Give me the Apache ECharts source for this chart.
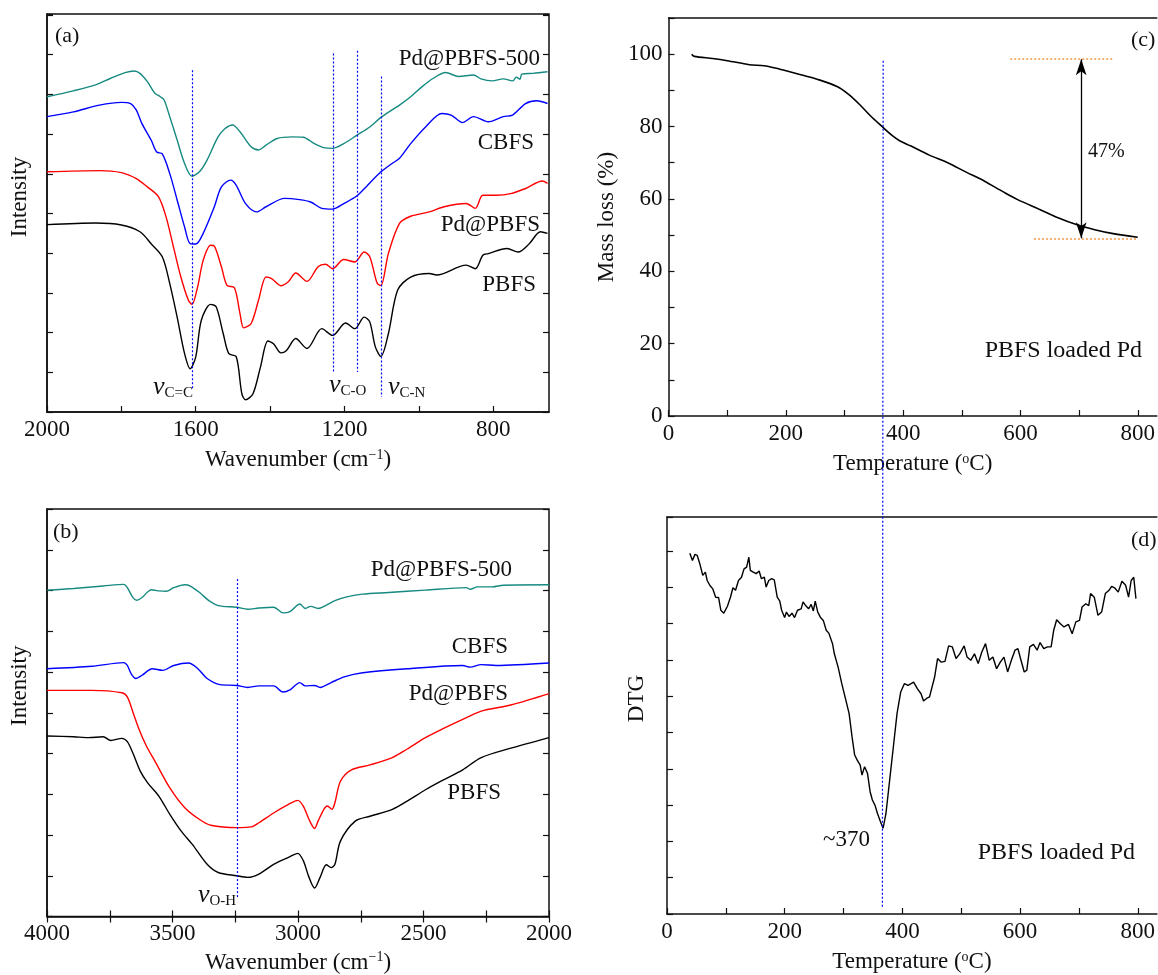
<!DOCTYPE html>
<html>
<head>
<meta charset="utf-8">
<script src="https://cdn.jsdelivr.net/npm/echarts@6/dist/echarts.min.js"></script>
<style>
html,body{margin:0;padding:0;background:#fff;}
#main{width:1158px;height:975px;}
</style>
</head>
<body>
<div id="main"></div>
<script>
// (a) FTIR 2000-650 cm-1, [wavenumber, intensity a.u.]
var tealA = [[2000,79.4],[1929,80.9],[1869,82.4],[1830,84.0],[1790,85.5],[1765,85.9],[1750,85.3],[1730,83.2],[1710,80.3],[1695,79.4],[1685,78.6],[1670,74.4],[1650,68.5],[1630,62.6],[1610,59.4],[1590,60.5],[1570,63.4],[1540,69.3],[1521,71.4],[1501,72.3],[1481,70.6],[1451,66.8],[1431,66.0],[1411,67.2],[1381,68.9],[1341,69.3],[1311,69.2],[1281,67.6],[1256,66.6],[1232,66.4],[1202,67.6],[1167,69.7],[1132,71.8],[1102,74.2],[1072,76.1],[1052,77.3],[1022,79.4],[992,81.9],[962,84.0],[928,85.5],[893,84.5],[853,84.9],[833,83.9],[803,83.4],[773,83.9],[748,83.4],[738,84.3],[728,83.8],[723,85.1],[693,85.3],[654,85.7]];
var blueA = [[2000,74.4],[1929,75.6],[1859,77.3],[1800,78.0],[1775,77.7],[1760,76.1],[1745,72.7],[1720,68.5],[1705,65.5],[1690,65.0],[1670,60.1],[1650,53.4],[1630,46.6],[1615,42.4],[1600,42.3],[1580,45.0],[1550,51.7],[1531,56.7],[1506,58.4],[1491,57.1],[1466,52.5],[1436,50.4],[1411,51.7],[1361,53.8],[1321,53.5],[1291,52.9],[1261,51.3],[1232,51.1],[1202,52.5],[1167,54.4],[1142,56.7],[1102,60.5],[1072,62.6],[1052,63.9],[1022,67.6],[982,71.8],[938,75.2],[913,74.8],[883,72.9],[853,74.4],[813,73.1],[773,74.4],[748,74.8],[713,77.7],[683,78.4],[654,77.7]];
var redA = [[2000,60.5],[1859,60.8],[1800,60.3],[1760,58.8],[1730,56.7],[1700,54.2],[1680,49.2],[1660,41.6],[1640,34.0],[1620,28.2],[1610,27.1],[1595,31.5],[1580,38.2],[1560,42.0],[1550,41.8],[1531,36.6],[1516,31.9],[1496,31.3],[1481,24.8],[1471,21.2],[1451,22.3],[1431,28.2],[1411,34.0],[1396,33.6],[1371,31.8],[1351,32.8],[1331,35.0],[1301,32.9],[1271,36.6],[1251,37.2],[1232,36.1],[1202,38.4],[1172,37.8],[1147,40.3],[1132,39.1],[1112,32.4],[1102,31.9],[1082,39.9],[1052,47.5],[1022,49.3],[972,50.4],[932,51.7],[873,52.5],[848,51.3],[828,54.6],[793,54.6],[753,55.0],[713,56.3],[668,58.2],[654,57.6]];
var blackA = [[2000,47.2],[1869,47.6],[1800,47.1],[1750,45.4],[1720,42.4],[1690,39.1],[1670,32.4],[1650,23.9],[1630,14.7],[1615,10.9],[1600,13.9],[1585,23.1],[1560,27.1],[1545,26.5],[1526,19.7],[1511,14.7],[1491,13.9],[1476,4.6],[1466,3.1],[1446,4.6],[1426,11.3],[1406,17.9],[1391,17.2],[1371,14.9],[1356,15.5],[1331,18.5],[1301,16.0],[1261,21.0],[1232,19.3],[1197,22.4],[1172,21.0],[1147,23.9],[1132,22.7],[1117,16.4],[1102,14.0],[1082,19.7],[1057,30.7],[1022,34.0],[972,34.9],[952,34.5],[873,37.0],[848,36.1],[828,39.5],[813,39.9],[763,41.2],[733,40.3],[703,42.4],[673,45.4],[654,45.0]];
// band markers in (a): [wavenumber, top, bottom]
var bandsA = [[1610,86.1,5.5],[1231,90.3,9.7],[1167,91.0,10.1],[1102,84.5,3.8]];

// (b) FTIR 4000-2000 cm-1
var tealB = [[4000,80.1],[3894,80.5],[3776,81.1],[3694,81.5],[3680,80.7],[3658,78.3],[3643,77.6],[3621,78.3],[3584,80.2],[3554,79.9],[3525,79.8],[3495,80.7],[3451,81.4],[3429,81.1],[3392,79.5],[3355,77.5],[3318,76.3],[3244,75.9],[3200,75.4],[3156,75.7],[3097,75.9],[3060,74.5],[3030,74.9],[2993,76.7],[2971,75.6],[2949,76.1],[2920,75.6],[2890,76.3],[2853,77.5],[2801,78.5],[2742,79.1],[2639,79.5],[2492,80.1],[2329,80.7],[2314,80.3],[2285,80.9],[2226,80.9],[2182,81.3],[2000,81.4]];
var blueB = [[4000,60.8],[3820,61.4],[3694,62.3],[3680,61.6],[3665,59.6],[3646,58.4],[3621,59.2],[3581,60.8],[3539,60.4],[3495,61.6],[3436,62.2],[3399,60.8],[3362,58.4],[3311,56.9],[3244,56.7],[3200,56.2],[3156,56.6],[3097,56.6],[3060,55.1],[3030,55.7],[2993,57.4],[2971,56.6],[2934,56.7],[2912,56.2],[2868,57.4],[2816,58.8],[2742,59.8],[2565,60.8],[2344,61.6],[2314,61.2],[2270,61.8],[2211,61.6],[2000,62.2]];
var redB = [[4000,55.5],[3820,55.5],[3702,54.9],[3680,53.9],[3658,50.2],[3635,46.2],[3606,42.1],[3569,38.0],[3510,31.5],[3451,26.7],[3392,23.8],[3348,22.4],[3244,21.8],[3185,22.0],[3156,23.0],[3097,25.4],[3038,27.5],[3001,28.5],[2979,27.1],[2956,23.8],[2934,21.6],[2920,23.4],[2897,26.3],[2883,27.1],[2865,26.3],[2853,27.9],[2831,33.2],[2787,36.0],[2713,37.2],[2624,39.0],[2565,41.1],[2492,43.9],[2418,46.2],[2329,48.8],[2270,50.4],[2152,51.9],[2000,54.7]];
var blackB = [[4000,44.3],[3894,44.1],[3835,43.9],[3776,44.1],[3746,43.2],[3702,43.7],[3680,42.9],[3658,40.1],[3628,35.6],[3599,32.8],[3554,29.5],[3510,25.0],[3466,21.0],[3421,17.7],[3362,12.8],[3318,10.8],[3244,10.0],[3200,9.6],[3156,10.4],[3097,12.8],[3038,14.5],[3001,15.5],[2979,13.7],[2956,9.6],[2934,7.0],[2912,9.6],[2887,12.7],[2868,12.0],[2853,12.8],[2831,18.5],[2772,23.4],[2713,24.6],[2624,26.3],[2565,28.3],[2492,31.1],[2418,33.6],[2344,36.0],[2270,39.0],[2152,41.3],[2000,43.9]];
var bandB = [3243, 82.8, 4.3];

// (c) TGA, [temperature C, mass %]
var tga = [[39.5,100],[43.9,99.4],[75.2,98.8],[100.2,98.2],[137.8,97.1],[162.9,96.8],[181.7,96.2],[200.5,95.4],[225.5,94.3],[256.9,92.9],[288.2,91.0],[307,88.9],[325.8,86.1],[344.6,82.9],[363.4,80.1],[382.2,77.4],[394.7,76.0],[413.5,74.6],[444.8,72.1],[476.1,70.0],[507.5,67.4],[538.8,64.9],[570.1,62.0],[595.2,59.8],[632.8,57.1],[664.1,54.8],[695.4,52.9],[726.7,51.5],[758.1,50.4],[800,49.4]];
var lossTop = [582.6, 758, 98.6];
var lossBottom = [623, 800, 49.1];
var lossArrowT = 703.6;

// (d) DTG, [temperature C, a.u.]
var dtg = [[38.8,99.4],[43.2,97.4],[47.6,99.1],[51.4,98.8],[55.8,96.5],[60.8,93.3],[65.2,94.2],[68.3,91.9],[72.7,90.6],[77.7,89.6],[82.7,87.3],[87.7,87.2],[91.5,83.7],[96.5,82.9],[102.7,84.8],[107.8,87.3],[112.1,89.9],[116.5,89.2],[121.5,91.9],[126.6,92.8],[130.9,95.1],[135.3,95.6],[139.1,98.3],[141.6,94.7],[146.6,94.2],[151.6,93.8],[156.6,94.5],[160.4,92.4],[165.4,92.8],[168.5,90.1],[172.9,91.9],[177.9,92.4],[182.3,92.1],[187.3,87.3],[191.7,86.2],[194.8,83.7],[199.9,81.7],[203,83.2],[207.4,82.0],[212.4,82.9],[216.8,81.7],[221.8,83.7],[228,84.1],[231.2,86.0],[235.6,85.0],[240.6,84.1],[245,85.3],[248.7,83.5],[251.9,86.2],[256.2,83.2],[260.6,81.8],[265.6,80.9],[270.6,78.2],[275,77.4],[281.3,74.5],[284.4,71.7],[290.7,68.1],[297,63.5],[303.2,59.4],[309.5,55.2],[314.5,48.8],[318.9,43.8],[323.3,42.4],[328.3,41.0],[331.4,38.3],[335.8,40.6],[340.8,38.7],[345.2,33.7],[349,31.4],[353.4,30.0],[357.7,27.7],[362.8,25.4],[367.2,23.6],[372.1,27.7],[378.4,36.9],[384.7,46.1],[390.9,55.2],[397.2,61.2],[403.5,63.5],[409.7,63.0],[419.1,63.9],[425.4,62.1],[431.7,60.7],[436,58.7],[441.1,59.4],[446.1,59.8],[450.5,62.6],[454.8,65.3],[459.8,70.4],[466.1,69.4],[472.4,69.6],[478.6,73.9],[484.9,73.6],[491.2,70.4],[497.4,71.7],[505,73.9],[510,70.8],[516.2,69.9],[522.5,71.7],[528.8,69.0],[535,72.2],[541.3,74.5],[547.6,69.9],[553.8,70.8],[560.1,67.6],[566.4,69.4],[572.6,70.8],[578.9,66.7],[585.2,69.9],[591.4,72.7],[596.4,73.1],[600.8,70.4],[607.1,66.7],[611.5,67.2],[616.5,73.6],[622.7,74.3],[629,72.7],[634,74.8],[640.3,73.1],[646.5,73.6],[652.8,73.6],[657.2,78.2],[662.2,81.1],[668.5,80.0],[674.7,79.1],[682.3,79.8],[688.5,77.2],[694.8,80.5],[701,80.9],[705.4,84.6],[711.7,85.5],[716.7,85.0],[719.8,88.3],[726.1,87.3],[732.4,82.3],[738.6,83.2],[744.9,88.3],[751.2,89.2],[755.6,90.3],[760.6,89.9],[766.8,88.7],[773.1,91.7],[779.4,90.6],[784.4,87.3],[788.8,91.9],[793.2,92.8],[796.9,86.9]];
var peakT = 366;

// tick positions
var ticksA = [800, 1000, 1200, 1400, 1600, 1800, 2000];
var labelsA = [800, 1200, 1600, 2000];
var ticksT = [0, 100, 200, 300, 400, 500, 600, 700, 800];
var labelsT = [0, 200, 400, 600, 800];

var font = "'Liberation Serif','Times New Roman',serif";
var ink = '#111';

var chart = echarts.init(document.getElementById('main'));

function frame(left, top, width, height, border){
  return {left: left, top: top, width: width, height: height, show: border,
    borderColor: ink, borderWidth: 1.5, backgroundColor: 'transparent'};
}
var labelStyle = {fontSize: 23, fontFamily: font, color: ink, margin: 6};
var nameStyle = {fontSize: 23, fontFamily: font, color: ink,
  rich: {sup: {fontSize: 14, fontFamily: font, color: ink, padding: [0, 0, 10, 0]}}};
var tickStyle = {inside: true, length: 6, lineStyle: {color: ink, width: 1.2}};
var lineAxis = {lineStyle: {color: ink, width: 1.5}};
var plain = function(v){ return String(v); };

function bandLines(list){
  return list.map(function(b){
    return [{coord: [b[0], b[1]]}, {coord: [b[0], b[2]]}];
  });
}
var dotBlue = {color: '#0000ff', width: 1.2, type: [2, 2]};

function lineSeries(data, color, xi, yi, w, smooth){
  return {type: 'line', data: data, xAxisIndex: xi, yAxisIndex: yi, showSymbol: false,
    symbol: 'none', smooth: smooth || false, lineStyle: {color: color, width: w || 1.4}, z: 3};
}

var sA = [
  lineSeries(tealA, '#168a80', 0, 0, 1.4, 0.3), lineSeries(blueA, '#0000ff', 0, 0, 1.4, 0.3),
  lineSeries(redA, '#ff0000', 0, 0, 1.4, 0.3), lineSeries(blackA, '#000', 0, 0, 1.4, 0.3)
];
sA[3].markLine = {silent: true, symbol: 'none', label: {show: false}, lineStyle: dotBlue, data: bandLines(bandsA)};
var sB = [
  lineSeries(tealB, '#168a80', 1, 1, 1.4, 0.3), lineSeries(blueB, '#0000ff', 1, 1, 1.4, 0.3),
  lineSeries(redB, '#ff0000', 1, 1, 1.4, 0.3), lineSeries(blackB, '#000', 1, 1, 1.4, 0.3)
];
sB[3].markLine = {silent: true, symbol: 'none', label: {show: false}, lineStyle: dotBlue, data: bandLines([bandB])};
var sC = lineSeries(tga, '#000', 2, 2, 1.6, 0.3);
var orange = {color: '#f4a14e', width: 1.6, type: [2, 2]};
sC.markLine = {silent: true, symbol: 'none', label: {show: false},
  data: [
    [{coord: [lossTop[0], lossTop[2]], lineStyle: orange}, {coord: [lossTop[1], lossTop[2]]}],
    [{coord: [lossBottom[0], lossBottom[2]], lineStyle: orange}, {coord: [lossBottom[1], lossBottom[2]]}],
    [{coord: [lossArrowT, lossTop[2]], symbol: 'arrow', symbolSize: [8, 16], lineStyle: {color: '#000', width: 1.3, type: 'solid'}},
     {coord: [lossArrowT, lossBottom[2]], symbol: 'arrow', symbolSize: [8, 16]}]
  ]};
var sD = lineSeries(dtg, '#000', 3, 3, 1.4);

// TGA/DTG panels run past the right edge of the figure
var tMax = 832.5;

function tempAxis(grid){
  return {gridIndex: grid, type: 'value', min: 0, max: tMax,
    name: 'Temperature ({sup|o}C)', nameLocation: 'middle', nameGap: 36, nameTextStyle: nameStyle,
    axisLine: lineAxis, splitLine: {show: false},
    axisTick: Object.assign({customValues: ticksT}, tickStyle),
    axisLabel: Object.assign({customValues: labelsT, formatter: plain}, labelStyle)};
}

var option = {
  animation: false,
  backgroundColor: '#fff',
  grid: [frame(47, 14, 502, 398, true), frame(47, 509, 502, 410, true),
         frame(668.5, 18, 489.5, 398, false), frame(667, 517, 491, 397, false)],
  xAxis: [
    {gridIndex: 0, type: 'value', inverse: true, min: 650, max: 2000,
      name: 'Wavenumber (cm{sup|\u22121})', nameLocation: 'middle', nameGap: 36, nameTextStyle: nameStyle,
      axisLine: lineAxis, splitLine: {show: false},
      axisTick: Object.assign({customValues: ticksA}, tickStyle),
      axisLabel: Object.assign({customValues: labelsA, formatter: plain}, labelStyle)},
    {gridIndex: 1, type: 'value', inverse: true, min: 2000, max: 4000, interval: 250,
      name: 'Wavenumber (cm{sup|\u22121})', nameLocation: 'middle', nameGap: 34, nameTextStyle: nameStyle,
      axisLine: lineAxis, splitLine: {show: false}, axisTick: tickStyle,
      axisLabel: Object.assign({showMinLabel: true, showMaxLabel: true,
        formatter: function(v){ return v % 500 === 0 ? String(v) : ''; }}, labelStyle)},
    tempAxis(2),
    tempAxis(3),
    {gridIndex: 1, type: 'value', position: 'top', inverse: true, min: 2000, max: 4000, interval: 250,
      axisLine: {show: false}, splitLine: {show: false}, axisTick: tickStyle, axisLabel: {show: false}},
    {gridIndex: 2, type: 'value', position: 'top', min: 0, max: tMax,
      axisLine: lineAxis, splitLine: {show: false}, axisTick: {show: false}, axisLabel: {show: false}},
    {gridIndex: 3, type: 'value', position: 'top', min: 0, max: tMax,
      axisLine: lineAxis, splitLine: {show: false}, axisTick: {show: false}, axisLabel: {show: false}}
  ],
  yAxis: [
    {gridIndex: 0, type: 'value', min: 0, max: 100.25, interval: 10,
      name: 'Intensity', nameLocation: 'middle', nameGap: 16,
      nameTextStyle: Object.assign({padding: [0, 0, 0, 32]}, nameStyle),
      axisLine: lineAxis, splitLine: {show: false}, axisTick: tickStyle, axisLabel: {show: false}},
    {gridIndex: 1, type: 'value', min: 0, max: 100, interval: 10,
      name: 'Intensity', nameLocation: 'middle', nameGap: 16,
      nameTextStyle: Object.assign({padding: [0, 0, 0, 54]}, nameStyle),
      axisLine: lineAxis, splitLine: {show: false}, axisTick: tickStyle, axisLabel: {show: false}},
    {gridIndex: 2, type: 'value', min: 0, max: 110, interval: 10,
      name: 'Mass loss (%)', nameLocation: 'middle', nameGap: 50, nameTextStyle: nameStyle,
      axisLine: lineAxis, splitLine: {show: false}, axisTick: tickStyle,
      axisLabel: Object.assign({formatter: function(v){ return v % 20 === 0 && v <= 100 ? String(v) : ''; }}, labelStyle)},
    {gridIndex: 3, type: 'value', min: 0, max: 109.4, interval: 10,
      name: 'DTG', nameLocation: 'middle', nameGap: 19,
      nameTextStyle: Object.assign({padding: [0, 0, 0, 34]}, nameStyle),
      axisLine: lineAxis, splitLine: {show: false}, axisTick: tickStyle, axisLabel: {show: false}},
    {gridIndex: 0, type: 'value', position: 'right', min: 0, max: 100.25, interval: 10,
      axisLine: {show: false}, splitLine: {show: false}, axisTick: tickStyle, axisLabel: {show: false}},
    {gridIndex: 1, type: 'value', position: 'right', min: 0, max: 100, interval: 10,
      axisLine: {show: false}, splitLine: {show: false}, axisTick: tickStyle, axisLabel: {show: false}}
  ],
  series: sA.concat(sB, [sC, sD])
};
chart.setOption(option);

function txt(x, y, text, align, size){
  return {type: 'text', x: x, y: y, z: 10, silent: true,
    style: {text: text, fontSize: size || 23, fontFamily: font, fill: ink,
      align: align || 'left', verticalAlign: 'middle'}};
}
var nuRich = {
  v: {fontSize: 26, fontStyle: 'italic', fontFamily: font, fill: ink},
  s: {fontSize: 15, fontFamily: font, fill: ink, padding: [12, 0, 0, 0]}
};
function nu(x, y, sub){
  return {type: 'text', x: x, y: y, z: 10, silent: true,
    style: {text: '{v|\u03bd}{s|' + sub + '}', rich: nuRich, fontFamily: font, fill: ink,
      align: 'left', verticalAlign: 'middle'}};
}

var g = [
  txt(55, 36, '(a)', 'left', 22),
  txt(540, 59, 'Pd@PBFS-500', 'right'),
  txt(534, 143, 'CBFS', 'right'),
  txt(540, 225, 'Pd@PBFS', 'right'),
  txt(536, 285, 'PBFS', 'right'),
  nu(153, 387, 'C=C'), nu(329, 385, 'C-O'), nu(388, 387, 'C-N'),
  txt(53, 532, '(b)', 'left', 22),
  txt(512, 570, 'Pd@PBFS-500', 'right'),
  txt(508, 647, 'CBFS', 'right'),
  txt(508, 694, 'Pd@PBFS', 'right'),
  txt(501, 793, 'PBFS', 'right'),
  nu(198, 895, 'O-H'),
  txt(1131, 40, '(c)', 'left', 22),
  txt(1088, 152, '47%', 'left', 20),
  txt(1142, 351, 'PBFS loaded Pd', 'right', 24),
  txt(1131, 540, '(d)', 'left', 22),
  txt(823, 840, '~370', 'left', 23),
  txt(1135, 853, 'PBFS loaded Pd', 'right', 24)
];
// peak marker running from the TGA panel down through the DTG panel
var pTop = chart.convertToPixel({xAxisIndex: 2, yAxisIndex: 2}, [peakT, 98.2]);
var pBot = chart.convertToPixel({xAxisIndex: 3, yAxisIndex: 3}, [peakT, 1.6]);
g.push({type: 'line', z: 9, silent: true,
  shape: {x1: pTop[0], y1: pTop[1], x2: pBot[0], y2: pBot[1]},
  style: {stroke: '#0000ff', lineWidth: 1.2, lineDash: [2, 2]}});
chart.setOption({graphic: g});
</script>
</body>
</html>
